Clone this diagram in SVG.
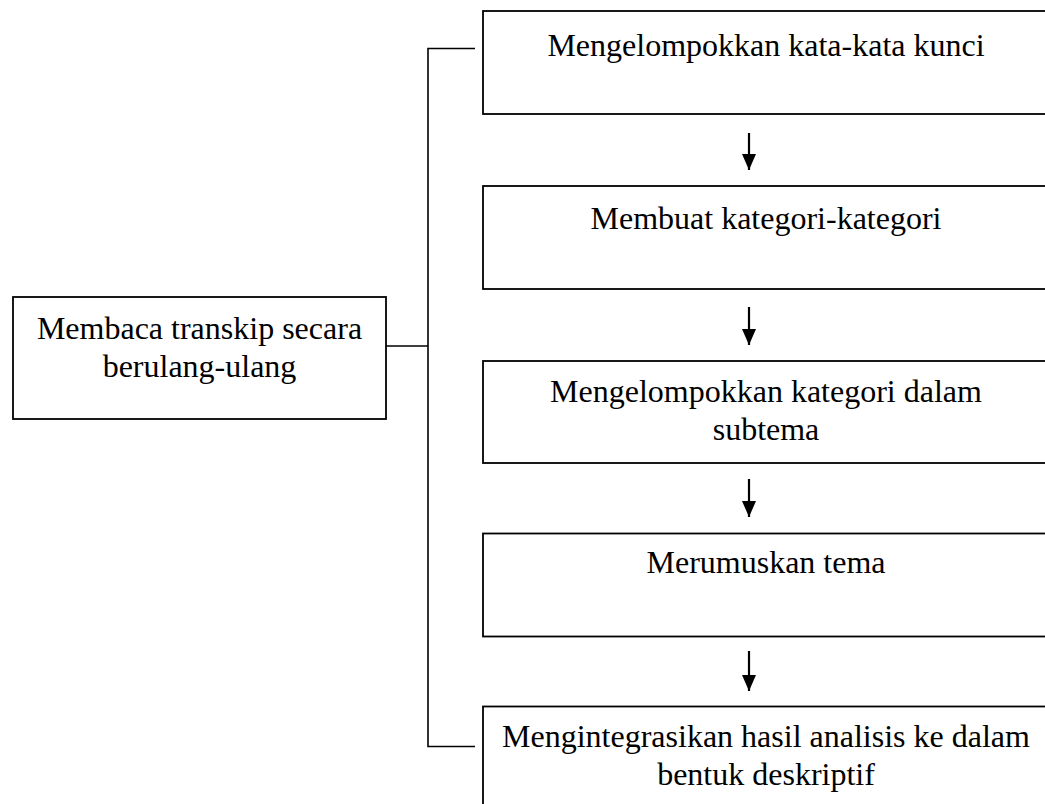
<svg xmlns="http://www.w3.org/2000/svg" width="1045" height="804" viewBox="0 0 1045 804">
<style>
.box{fill:#fff;stroke:#000;stroke-width:1.8}
.ln{fill:none;stroke:#000;stroke-width:1.6}
.arr{fill:none;stroke:#000;stroke-width:2.2}
.t{font-family:"Liberation Serif","Times New Roman",serif;font-size:32px;fill:#000;text-anchor:middle}
</style>
<defs>
<marker id="ah" markerUnits="userSpaceOnUse" markerWidth="18" markerHeight="16" refX="17" refY="8" orient="auto" viewBox="0 0 18 16">
<path d="M1,1 L17,8 L1,15 z" fill="#000"/>
</marker>
</defs>
<rect width="1045" height="804" fill="#fff"/>
<g id="connectors">
<path class="ln" d="M386,346 H428 M475,48.5 H428 V746.5 H475"/>
<path class="arr" d="M749,133 V170" marker-end="url(#ah)"/>
<path class="arr" d="M749,307 V345" marker-end="url(#ah)"/>
<path class="arr" d="M749,479 V517" marker-end="url(#ah)"/>
<path class="arr" d="M749,651 V691" marker-end="url(#ah)"/>
</g>
<g id="node-membaca">
<rect class="box" x="13" y="297" width="373" height="122"/>
<text class="t" x="199.5" y="339">Membaca transkip secara</text>
<text class="t" x="199.5" y="377">berulang-ulang</text>
</g>
<g id="node-kata-kunci">
<rect class="box" x="483" y="11" width="567" height="103"/>
<text class="t" x="766" y="56">Mengelompokkan kata-kata kunci</text>
</g>
<g id="node-kategori">
<rect class="box" x="483" y="186" width="567" height="103"/>
<text class="t" x="766" y="229">Membuat kategori-kategori</text>
</g>
<g id="node-subtema">
<rect class="box" x="483" y="361" width="567" height="102"/>
<text class="t" x="766" y="402">Mengelompokkan kategori dalam</text>
<text class="t" x="766" y="440">subtema</text>
</g>
<g id="node-tema">
<rect class="box" x="483" y="533.5" width="567" height="103"/>
<text class="t" x="766" y="573">Merumuskan tema</text>
</g>
<g id="node-integrasi">
<rect class="box" x="483" y="706.5" width="567" height="120"/>
<text class="t" x="766" y="747">Mengintegrasikan hasil analisis ke dalam</text>
<text class="t" x="766" y="785">bentuk deskriptif</text>
</g>
</svg>
